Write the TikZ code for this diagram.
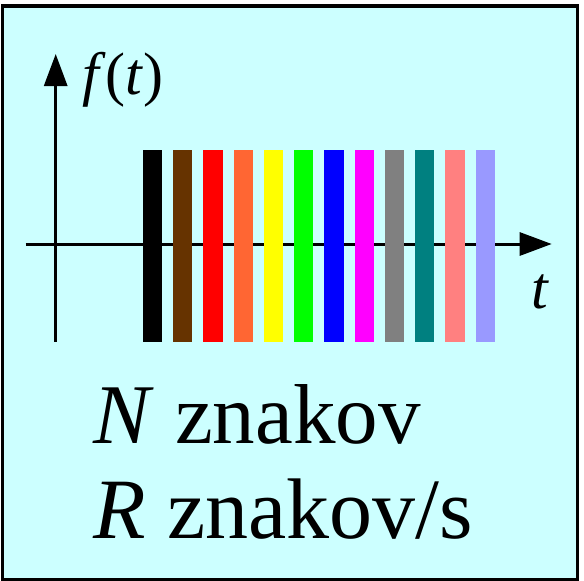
\documentclass[tikz,border=0pt]{standalone}
\usepackage{fontspec}
\setmainfont{Liberation Serif}
\newfontfamily\tnr{Liberation Serif}
\usetikzlibrary{arrows.meta}
\definecolor{bg}{HTML}{CCFFFF}
\definecolor{c1}{HTML}{000000}
\definecolor{c2}{HTML}{663300}
\definecolor{c3}{HTML}{FF0000}
\definecolor{c4}{HTML}{FF6633}
\definecolor{c5}{HTML}{FFFF00}
\definecolor{c6}{HTML}{00FF00}
\definecolor{c7}{HTML}{0000FF}
\definecolor{c8}{HTML}{FF00FF}
\definecolor{c9}{HTML}{808080}
\definecolor{c10}{HTML}{008080}
\definecolor{c11}{HTML}{FF8080}
\definecolor{c12}{HTML}{9999FF}
\begin{document}
\begin{tikzpicture}[x=1pt,y=-1pt,
  axis/.style={line width=3pt,-{Triangle[length=32pt,width=23pt]}},
  barbox/.style={inner sep=0pt,outer sep=0pt,minimum width=19.3pt,minimum height=191.7pt,anchor=north west,draw=none},
  lbl/.style={inner sep=0pt,anchor=base west}]
\useasboundingbox (0,0) rectangle (584,581);
\draw[line width=3.5pt,fill=bg] (2.7,6) rectangle (577.5,579.5);
% axes
\coordinate (xs) at (25.7,244);
\coordinate (xe) at (551.7,244);
\coordinate (ys) at (55.7,341.7);
\coordinate (ye) at (55.7,54);
\draw[axis] (xs) -- (xe);
\draw[axis] (ys) -- (ye);
% bars
\foreach \k in {0,...,11}{
  \pgfmathsetmacro{\xx}{142.7+30.27*\k}
  \pgfmathtruncatemacro{\cc}{\k+1}
  \node[barbox,fill=c\cc] (bar\cc) at (\xx,150) {};
}
% labels
\node[lbl,font=\tnr\fontsize{60}{60}\selectfont] (ft) at (82,94) {\textit{f}(\textit{t})};
\node[lbl,font=\tnr\fontsize{60}{60}\selectfont] (tl) at (531,308) {\textit{t}};
\node[lbl,font=\tnr\fontsize{85}{85}\selectfont] (n1) at (93,443.3) {\textit{N} znakov};
\node[lbl,font=\tnr\fontsize{86}{86}\selectfont] (n2) at (93,538) {\textit{R} znakov/s};
\end{tikzpicture}
\end{document}
